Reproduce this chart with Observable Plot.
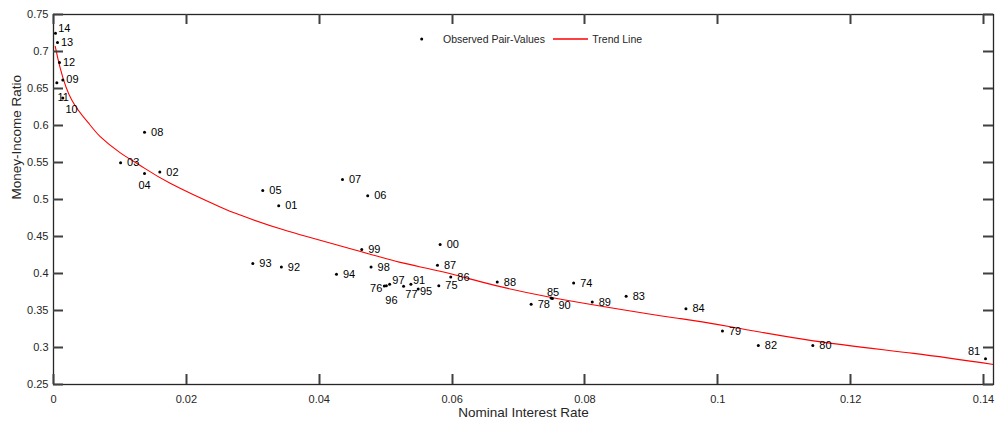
<!DOCTYPE html>
<html>
<head>
<meta charset="utf-8">
<script src="https://cdn.jsdelivr.net/npm/d3@7"></script>
<script src="https://cdn.jsdelivr.net/npm/@observablehq/plot@0.6"></script>
<style>
  html, body { margin: 0; padding: 0; background: #fff; }
  #wrap { position: relative; width: 997px; height: 424px; font-family: "Liberation Sans", Arial, sans-serif; }
  #overlay { position: absolute; left: 0; top: 0; pointer-events: none; }
</style>
</head>
<body>
<div id="wrap">
  <div id="chart"></div>
  <svg id="overlay" width="997" height="424" font-family="'Liberation Sans', Arial, sans-serif" font-size="10.5">
    <g id="ticks"></g>
    <circle cx="421.7" cy="39" r="1.5" fill="#000"></circle>
    <text x="443" y="39" dy="0.35em" fill="#262626">Observed Pair-Values</text>
    <line x1="553" x2="588" y1="39" y2="39" stroke="#ff0000" stroke-width="1.6"></line>
    <text x="592.3" y="39" dy="0.35em" fill="#262626">Trend Line</text>
  </svg>
</div>
<script>
// ---- Data ----
const years = ["74","75","76","77","78","79","80","81","82","83","84","85","86","87","88","89","90","91","92","93","94","95","96","97","98","99","00","01","02","03","04","05","06","07","08","09","10","11","12","13","14"];
const rates = [0.0783,0.0580,0.0498,0.0527,0.0719,0.1007,0.1143,0.1403,0.1061,0.0862,0.0952,0.0749,0.0598,0.0578,0.0668,0.0811,0.0751,0.0538,0.0343,0.0300,0.0426,0.0549,0.0501,0.0506,0.0478,0.0464,0.0582,0.0339,0.0160,0.0101,0.0137,0.0315,0.0473,0.0435,0.0137,0.0014,0.0014,0.0005,0.0009,0.0006,0.0003];
const ratios = [0.3872,0.3836,0.3830,0.3827,0.3583,0.3222,0.3028,0.2848,0.3028,0.3691,0.3525,0.3668,0.3953,0.4111,0.3885,0.3614,0.3663,0.3854,0.4088,0.4134,0.3989,0.3790,0.3836,0.3854,0.4088,0.4324,0.4391,0.4914,0.5370,0.5496,0.5353,0.5122,0.5050,0.5271,0.5908,0.6616,0.6370,0.6579,0.6850,0.7120,0.7248];

// Trend line
const trendRate = [0.00026,0.001,0.00277,0.00548,0.00703,0.01006,0.01305,0.01756,0.02509,0.0281,0.03462,0.0461,0.05219,0.0582,0.06423,0.07477,0.09133,0.0944,0.1019,0.1144,0.1295,0.1415];
const trendRatio = [0.707,0.678,0.634,0.601,0.585,0.563,0.546,0.522,0.490,0.479,0.459,0.430,0.415,0.403,0.389,0.368,0.343,0.339,0.328,0.309,0.292,0.277];

const xTicks = [0,0.02,0.04,0.06,0.08,0.1,0.12,0.14];
const xTickLabels = ["0","0.02","0.04","0.06","0.08","0.1","0.12","0.14"];
const yTicks = [0.25,0.3,0.35,0.4,0.45,0.5,0.55,0.6,0.65,0.7,0.75];
const yTickLabels = ["0.25","0.3","0.35","0.4","0.45","0.5","0.55","0.6","0.65","0.7","0.75"];

// ---- Label placement (style) ----
const defaultPlacement = ["start", 6.5, 0];
const labelPlacement = {
  "14": ["start", 2.7, -5], "13": ["start", 3.5, 0], "12": ["start", 3.5, 0], "09": ["start", 3.5, 0],
  "11": ["start", 0.7, 15], "10": ["start", 2.7, 11], "04": ["middle", 0, 11.7],
  "96": ["start", -1, 14.4], "77": ["start", 1.7, 8], "76": ["end", -2, 2],
  "97": ["start", 2.7, -4], "91": ["start", 2, -4], "95": ["start", 1.7, 2.7],
  "85": ["middle", 2, -5.3], "90": ["start", 6, 7.3], "81": ["end", -5.3, -7.3]
};

const points = years.map((y, i) => ({year: y, rate: rates[i], ratio: ratios[i]}));
const trend = trendRate.map((r, i) => ({rate: r, ratio: trendRatio[i]}));

const W = 997, H = 424;
const mL = 53, mR = 4, mT = 14, mB = 40;
const tickLen = 10;
const tickW = 2;
const axisColor = "#262626";
const xDomain = [0, 0.1415], yDomain = [0.25, 0.75];

const groups = d3.group(points, d => (labelPlacement[d.year] || defaultPlacement).join("|"));
const labelMarks = [];
for (const [key, data] of groups) {
  const [anchor, dx, dy] = key.split("|");
  labelMarks.push(Plot.text(data, {
    x: "rate", y: "ratio", text: "year",
    textAnchor: anchor, dx: +dx, dy: +dy,
    fontSize: 11, fill: "#000"
  }));
}

const chart = Plot.plot({
  width: W, height: H,
  marginLeft: mL, marginRight: mR, marginTop: mT, marginBottom: mB,
  style: {fontFamily: "'Liberation Sans', Arial, sans-serif", fontSize: "11px", color: axisColor, background: "#fff"},
  x: {domain: xDomain, axis: null},
  y: {domain: yDomain, axis: null},
  marks: [
    Plot.line(trend, {x: "rate", y: "ratio", stroke: "#ff0000", strokeWidth: 1.1, curve: "natural"}),
    Plot.dot(points, {x: "rate", y: "ratio", r: 1.5, fill: "#000", stroke: null}),
    ...labelMarks,
    Plot.axisX({ticks: xTicks, tickSize: 0, tickPadding: 11, tickFormat: d => xTickLabels[xTicks.indexOf(d)], label: null, fontSize: 11, fill: axisColor}),
    Plot.axisY({ticks: yTicks, tickSize: 0, tickPadding: 5, tickFormat: d => yTickLabels[yTicks.indexOf(d)], label: null, fontSize: 11, fill: axisColor}),
    Plot.text(["Nominal Interest Rate"], {frameAnchor: "bottom", dy: 32, fontSize: 13.5, fill: axisColor}),
    Plot.text(["Money-Income Ratio"], {frameAnchor: "left", dx: -37, rotate: -90, fontSize: 13.5, fill: axisColor}),
    Plot.frame({stroke: axisColor, strokeWidth: 1.3})
  ]
});
document.getElementById("chart").appendChild(chart);

// inward ticks on all four sides, drawn as small filled bars, placed with the chart's scale domain and range
const sxo = chart.scale("x") || {}, syo = chart.scale("y") || {};
const fx = d3.scaleLinear(sxo.domain || xDomain, sxo.range || [mL, W - mR]);
const fy = d3.scaleLinear(syo.domain || yDomain, syo.range || [H - mB, mT]);
const ns = "http://www.w3.org/2000/svg";
const tickGroup = document.getElementById("ticks");
function bar(x, y, w, h) {
  const r = document.createElementNS(ns, "rect");
  r.setAttribute("x", x); r.setAttribute("y", y);
  r.setAttribute("width", w); r.setAttribute("height", h);
  r.setAttribute("fill", "#404040");
  tickGroup.appendChild(r);
}
const edgeTop = mT, edgeBottom = H - mB, edgeLeft = mL, edgeRight = W - mR;
for (const t of xTicks) {
  const px = Math.round(fx(t));
  bar(px - tickW / 2 + 0.5, edgeBottom - tickLen, tickW, tickLen);
  bar(px - tickW / 2 + 0.5, edgeTop, tickW, tickLen);
}
for (const t of yTicks) {
  const py = Math.round(fy(t));
  bar(edgeLeft, py - tickW / 2 + 0.5, tickLen, tickW);
  bar(edgeRight - tickLen, py - tickW / 2 + 0.5, tickLen, tickW);
}
</script>
</body>
</html>
